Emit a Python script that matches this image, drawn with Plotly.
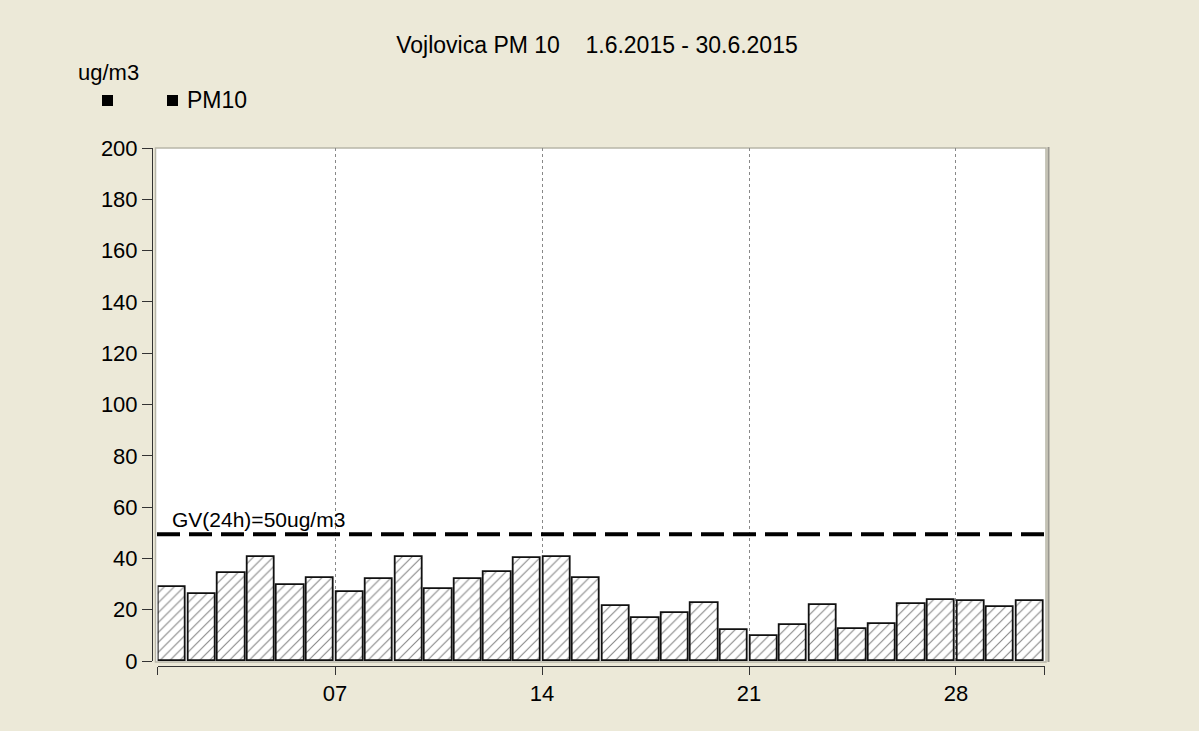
import plotly.graph_objects as go

# Tagesmittelwerte PM10, Juni 2015
days = list(range(1, 31))
pm10 = [28.7, 26.1, 34.4, 40.4, 29.7, 32.2, 26.8, 31.8, 40.4, 28.2,
        31.8, 34.8, 40.2, 40.6, 32.2, 21.6, 16.9, 18.6, 22.6, 11.9,
        9.8, 13.9, 21.7, 12.4, 14.3, 22.1, 23.6, 23.2, 21.0, 23.2]
tick_days = [7, 14, 21, 28]
y_ticks = [0, 20, 40, 60, 80, 100, 120, 140, 160, 180, 200]
limit = 50

BG = "#ECE9D8"
FONT = "Liberation Sans, Arial, sans-serif"
DAY_MS = 86400000

x = [f"2015-06-{d:02d} 12:00" for d in days]

fig = go.Figure()
fig.add_trace(go.Bar(
    x=x, y=pm10, width=0.92 * DAY_MS, showlegend=False,
    marker=dict(color="white", line=dict(color="#111111", width=1.8),
                pattern=dict(shape="/", size=7, solidity=0.16,
                             fgcolor="#111111", bgcolor="white")),
))

W, H = 1199, 731
L, R, T, B = 152, 153, 148, 65
pw, ph = W - L - R, H - T - B


def px_x(p):
    return (p - L) / pw


def px_y(p):
    return (H - B - p) / ph


fig.update_layout(
    width=W, height=H,
    margin=dict(l=L, r=R, t=T, b=B),
    paper_bgcolor=BG, plot_bgcolor="rgba(0,0,0,0)",
    font=dict(family=FONT, size=22, color="black"),
    bargap=0,
    title=dict(text="Vojlovica PM 10    1.6.2015 - 30.6.2015",
               x=px_x(597), xref="paper", xanchor="center",
               y=1 - 45 / H, yanchor="middle",
               font=dict(size=23, family=FONT, color="black")),
    xaxis=dict(
        domain=[px_x(157.6), px_x(1044.7)],
        range=["2015-06-01", "2015-07-01"],
        anchor="free", position=0,
        tickmode="array",
        tickvals=[f"2015-06-{d:02d}" for d in tick_days],
        ticktext=[f"{d:02d}" for d in tick_days],
        ticks="outside", ticklen=8, tickcolor="#333333", tickwidth=1,
        showline=True, linecolor="#333333", linewidth=1,
        showgrid=True, gridcolor="#888888", griddash="dot", gridwidth=1,
        zeroline=False,
        tickfont=dict(size=22),
        minor=dict(tickmode="array", tickvals=["2015-06-01", "2015-07-01"],
                   ticks="outside", ticklen=8, tickcolor="#333333",
                   showgrid=False),
    ),
    yaxis=dict(
        domain=[px_y(661), 1],
        range=[0, 200],
        anchor="free", position=0,
        tickmode="array", tickvals=y_ticks,
        ticks="outside", ticklen=10, tickcolor="#333333",
        showline=True, linecolor="#333333", linewidth=1,
        showgrid=False, zeroline=False,
        tickfont=dict(size=22),
    ),
)

# weisse Zeichenflaeche mit Rahmen
fig.add_shape(type="rect", xref="paper", yref="paper",
              x0=px_x(155.5), x1=px_x(1046), y0=px_y(662), y1=px_y(148),
              fillcolor="white", line=dict(color="#B8B6A8", width=1.5),
              layer="below")
fig.add_shape(type="line", xref="paper", yref="paper",
              x0=px_x(1048.5), x1=px_x(1048.5), y0=px_y(662), y1=px_y(147),
              line=dict(color="#999890", width=2), layer="below")

# Grenzwert
fig.add_shape(type="line", xref="paper", yref="y",
              x0=px_x(157), x1=px_x(1046),
              ysizemode="pixel", yanchor=limit, y0=-1.5, y1=-1.5,
              line=dict(color="black", width=4, dash="23px,9px"),
              layer="above")
fig.add_annotation(text=f"GV(24h)={limit}ug/m3", xref="paper", yref="y",
                   x=px_x(170), y=limit, xanchor="left", yanchor="bottom",
                   yshift=0, showarrow=False, font=dict(size=21))

# Einheit und Legende
fig.add_annotation(text="ug/m3", xref="paper", yref="paper",
                   x=px_x(76), y=px_y(73), xanchor="left", yanchor="middle",
                   showarrow=False, font=dict(size=22))
for x0 in (102, 167):
    fig.add_shape(type="rect", xref="paper", yref="paper",
                  x0=px_x(x0), x1=px_x(x0 + 11), y0=px_y(106), y1=px_y(95),
                  fillcolor="black", line=dict(width=0))
fig.add_annotation(text="PM10", xref="paper", yref="paper",
                   x=px_x(185), y=px_y(100), xanchor="left", yanchor="middle",
                   showarrow=False, font=dict(size=23))

# Seitenrand des Browsers entfernen, damit die Grafik bei (0,0) beginnt
fig.write_html("out.html", config={"displayModeBar": False},
               post_script="document.body.style.margin='0';")
